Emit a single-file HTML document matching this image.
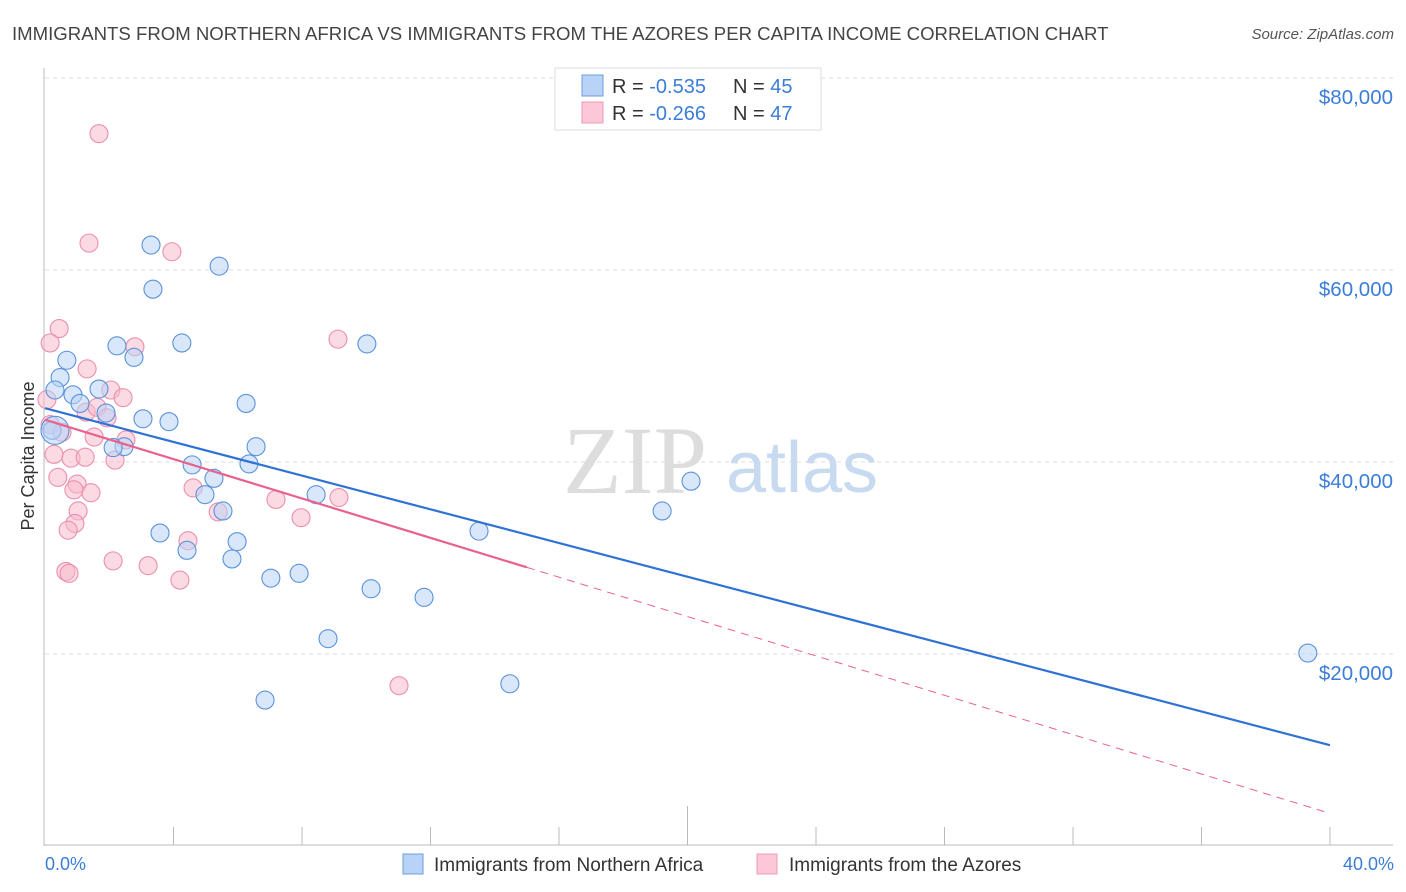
<!DOCTYPE html>
<html><head><meta charset="utf-8">
<style>
body{margin:0;background:#fff;font-family:"Liberation Sans",sans-serif;}
#wrap{position:relative;width:1406px;height:892px;overflow:hidden;}
</style></head>
<body>
<div id="wrap">
<svg id="svg" width="1406" height="892" xmlns="http://www.w3.org/2000/svg">
<text x="12" y="40" font-size="18.6" fill="#444">IMMIGRANTS FROM NORTHERN AFRICA VS IMMIGRANTS FROM THE AZORES PER CAPITA INCOME CORRELATION CHART</text>
<text x="1394" y="39" font-size="15" fill="#555" font-style="italic" text-anchor="end">Source: ZipAtlas.com</text>
<text x="635" y="493" font-size="96" fill="#ddd" font-family="Liberation Serif,serif" text-anchor="middle">ZIP</text>
<text x="802" y="492" font-size="72" fill="#c7daf0" text-anchor="middle">atlas</text>
<g id="grid"></g>
<g id="axes"></g>
<g id="marks"></g>
<text transform="translate(34,456) rotate(-90)" font-size="18" fill="#333" text-anchor="middle">Per Capita Income</text>
<text x="45" y="870" font-size="18" fill="#3b7dd8">0.0%</text>
<text x="1394" y="870" font-size="18" fill="#3b7dd8" text-anchor="end">40.0%</text>
<g>
<rect x="403" y="854" width="20" height="20" fill="#b8d3f5" stroke="#6a9ee0"/>
<text x="434" y="871" font-size="19" fill="#333">Immigrants from Northern Africa</text>
<rect x="757" y="854" width="20" height="20" fill="#fcc8d8" stroke="#ec9ab4"/>
<text x="789" y="871" font-size="19" fill="#333">Immigrants from the Azores</text>
</g>
<g>
<rect x="555" y="68" width="266" height="62" fill="#fff" stroke="#ddd"/>
<rect x="582" y="75" width="21" height="21" fill="#b8d3f5" stroke="#6a9ee0"/>
<text x="612" y="93" font-size="20" fill="#333">R = <tspan fill="#3b7dd8">-0.535</tspan></text>
<text x="733" y="93" font-size="20" fill="#333">N = <tspan fill="#3b7dd8">45</tspan></text>
<rect x="582" y="102" width="21" height="21" fill="#fcc8d8" stroke="#ec9ab4"/>
<text x="612" y="120" font-size="20" fill="#333">R = <tspan fill="#3b7dd8">-0.266</tspan></text>
<text x="733" y="120" font-size="20" fill="#333">N = <tspan fill="#3b7dd8">47</tspan></text>
</g>
</svg>
</div>
<script>
const blueX=[3.30,5.42,3.36,4.26,10.02,2.24,2.77,0.68,0.47,0.31,1.68,0.87,1.09,1.90,6.26,3.05,3.86,0.22,2.46,2.12,6.57,4.58,6.35,5.26,4.98,8.44,5.54,3.58,13.51,19.21,20.11,4.42,5.98,5.82,7.03,7.91,10.15,11.80,8.81,6.85,14.47,39.31,0.31];
const blueY=[62600,60400,58000,52400,52300,52100,50900,50600,48800,47500,47600,47000,46100,45100,46100,44500,44200,43300,41600,41500,41600,39700,39800,38300,36600,36600,34900,32600,32800,34900,38000,30800,31700,29900,27900,28400,26800,25900,21600,15200,16900,20100,43300];
const pinkX=[1.68,1.37,3.95,0.44,0.16,9.12,2.80,1.31,2.05,2.43,1.28,1.62,0.06,0.16,0.53,1.53,2.52,0.28,0.81,1.25,2.18,0.40,1.00,0.90,1.43,4.61,7.19,9.15,7.97,1.03,5.39,0.93,0.72,4.45,2.12,3.21,0.65,0.75,4.20,11.02,1.93];
const pinkY=[74200,62800,61900,53900,52400,52800,52000,49700,47500,46700,45200,45700,46500,43900,43100,42600,42300,40800,40400,40500,40200,38400,37700,37100,36800,37300,36100,36300,34200,34900,34800,33600,32900,31800,29700,29200,28600,28400,27700,16700,44600];
const yTicks=[20000,40000,60000,80000];
const yTickLabels=["$20,000","$40,000","$60,000","$80,000"];
const blueTrend=[45600,10500];
const pinkTrend=[44400,3400];
const pinkSolidEnd=15;
const NS="http://www.w3.org/2000/svg";
function sx(v){return 45+v/40*1285;}
function sy(v){return 846-v/20000*192;}
function mk(tag,attrs,parent){const e=document.createElementNS(NS,tag);for(const k in attrs)e.setAttribute(k,attrs[k]);parent.appendChild(e);return e;}
const grid=document.getElementById('grid'),axes=document.getElementById('axes'),marks=document.getElementById('marks');
yTicks.forEach((t,i)=>{
  const l=mk('line',{x1:45,x2:1393,y1:sy(t),y2:sy(t),stroke:'#ddd','stroke-dasharray':'4,4'},grid);
  
  
  const tx=mk('text',{x:1393,y:sy(t)+26,'font-size':20.5,fill:'#3b7dd8','text-anchor':'end'},grid);
  tx.textContent=yTickLabels[i];
  
  
});
const ya=mk('line',{x1:44,x2:44,y1:68,y2:846,stroke:'#bbb'},axes);


const xa=mk('line',{x1:44,x2:1393,y1:845,y2:845,stroke:'#bbb'},axes);


for(let i=1;i<=10;i++){
  const x=sx(i*4);
  const t=mk('line',{x1:x,x2:x,y1:i==5?806:827,y2:845,stroke:'#bbb'},axes);
  
  
}
function dots(X,Y,fill,stroke,name){
  X.forEach((x,i)=>{
    const c=mk('circle',{cx:sx(x),cy:sy(Y[i]),r:(name=='blue-point'&&i==X.length-1)?14:9,fill:fill,'fill-opacity':0.55,stroke:stroke,'stroke-width':1.1},marks);
    
    
  });
}
dots(pinkX,pinkY,'#f8bccd','#ec8fad','pink-point');
dots(blueX,blueY,'#b8d3f5','#5b92dc','blue-point');
const bl=mk('line',{x1:sx(0),y1:sy(blueTrend[0]),x2:sx(40),y2:sy(blueTrend[1]),stroke:'#2f72d6','stroke-width':2.2},marks);


const pe=pinkTrend[0]+(pinkTrend[1]-pinkTrend[0])*pinkSolidEnd/40;
const pl=mk('line',{x1:sx(0),y1:sy(pinkTrend[0]),x2:sx(pinkSolidEnd),y2:sy(pe),stroke:'#e8628c','stroke-width':2.2},marks);


const pd=mk('line',{x1:sx(pinkSolidEnd),y1:sy(pe),x2:sx(40),y2:sy(pinkTrend[1]),stroke:'#e8628c','stroke-width':1,'stroke-dasharray':'8,6'},marks);


</script>
</body></html>
